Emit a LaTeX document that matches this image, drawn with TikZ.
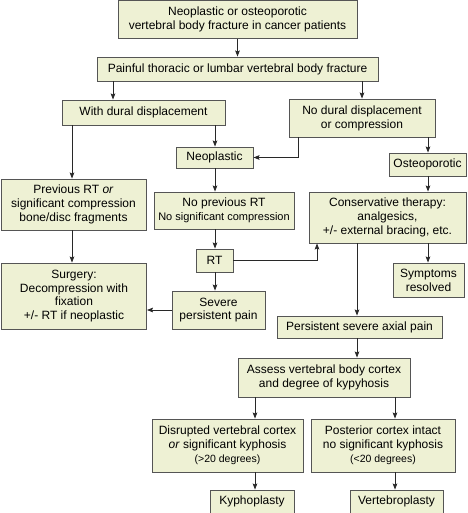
\documentclass[tikz,border=0pt]{standalone}
\usepackage{fontspec}
\setmainfont{Liberation Sans}
\usetikzlibrary{arrows.meta}
\definecolor{boxfill}{RGB}{238,241,212}
\definecolor{boxline}{RGB}{85,85,85}
\definecolor{arrline}{RGB}{40,40,40}
\tikzset{
  box/.style={draw=boxline, fill=boxfill, line width=0.9pt, inner sep=0pt, align=center,
    font=\fontsize{12}{13.8}\selectfont},
  arr/.style={draw=arrline, line width=0.8pt, -{Stealth[length=6pt,width=4.6pt,inset=1pt]}},
  small/.style={font=\fontsize{10.5}{12.5}\selectfont}
}
\begin{document}
\begin{tikzpicture}[x=1pt,y=-1pt]
\useasboundingbox (0,0) rectangle (467,513);
\node[box, minimum width=239pt, minimum height=38pt] (top) at (237.5,19.5) {Neoplastic or osteoporotic\\vertebral body fracture in cancer patients};
\node[box, minimum width=281pt, minimum height=24pt] (pain) at (237.5,69) {Painful thoracic or lumbar vertebral body fracture};
\node[box, minimum width=163pt, minimum height=25pt] (dural) at (143.5,112.5) {With dural displacement};
\node[box, minimum width=146pt, minimum height=38pt] (nodural) at (362,118) {No dural displacement\\or compression};
\node[box, minimum width=77pt, minimum height=21pt] (neo) at (214.5,157.5) {Neoplastic};
\node[box, minimum width=77pt, minimum height=23pt] (osteo) at (427.5,164.5) {Osteoporotic};
\node[box, minimum width=145pt, minimum height=51pt] (prevrt) at (73.5,204.5) {Previous RT \textit{or}\\significant compression\\bone/disc fragments};
\node[box, minimum width=140pt, minimum height=37pt] (noprev) at (224,210.5) {No previous RT\\{\fontsize{11}{12.5}\selectfont No significant compression}};
\node[box, minimum width=157pt, minimum height=51pt] (cons) at (387.5,217.5) {Conservative therapy:\\analgesics,\\+/- external bracing, etc.};
\node[box, minimum width=37pt, minimum height=23pt] (rt) at (214.5,260.5) {RT};
\node[box, minimum width=145pt, minimum height=66pt] (surg) at (74,296) {Surgery:\\Decompression with\\fixation\\+/- RT if neoplastic};
\node[box, minimum width=93pt, minimum height=38pt] (severe) at (218.5,310) {Severe\\persistent pain};
\node[box, minimum width=71pt, minimum height=34pt] (sympt) at (428.5,280) {Symptoms\\resolved};
\node[box, minimum width=165pt, minimum height=22pt] (persist) at (359.5,327) {Persistent severe axial pain};
\node[box, minimum width=172pt, minimum height=39pt] (assess) at (324,377.5) {Assess vertebral body cortex\\and degree of kypyhosis};
\node[box, minimum width=151pt, minimum height=53pt] (disr) at (227.5,445.5) {Disrupted vertebral cortex\\\textit{or} significant kyphosis\\{\fontsize{10.5}{13}\selectfont (>20 degrees)}};
\node[box, minimum width=144pt, minimum height=53pt] (post) at (383,445.5) {Posterior cortex intact\\no significant kyphosis\\{\fontsize{10.5}{13}\selectfont (<20 degrees)}};
\node[box, minimum width=84pt, minimum height=23pt] (kypho) at (252,501.5) {Kyphoplasty};
\node[box, minimum width=93pt, minimum height=23pt] (vert) at (396.5,501.5) {Vertebroplasty};

\draw[arr] (top.south) -- (pain.north);
\draw[arr] (pain.south -| 113,0) -- (dural.north -| 113,0);
\draw[arr] (pain.south -| 362,0) -- (nodural.north -| 362,0);
\draw[arr] (dural.south -| 215,0) -- (neo.north -| 215,0);
\draw[arr] (dural.south -| 72,0) -- (prevrt.north -| 72,0);
\draw[arr] (nodural.south -| 298,0) |- (neo.east);
\draw[arr] (nodural.south -| 428,0) -- (osteo.north -| 428,0);
\draw[arr] (osteo.south -| 428,0) -- (cons.north -| 428,0);
\draw[arr] (neo.south -| 215,0) -- (noprev.north -| 215,0);
\draw[arr] (noprev.south -| 215,0) -- (rt.north -| 215,0);
\draw[arr] (rt.south -| 215,0) -- (severe.north -| 215,0);
\draw[arr] (rt.east) -| (cons.south -| 317,0);
\draw[arr] (prevrt.south -| 72,0) -- (surg.north -| 72,0);
\draw[arr] (severe.west) -- (surg.east |- severe.west);
\draw[arr] (cons.south -| 428,0) -- (sympt.north -| 428,0);
\draw[arr] (cons.south -| 357,0) -- (persist.north -| 357,0);
\draw[arr] (persist.south -| 357,0) -- (assess.north -| 357,0);
\draw[arr] (assess.south -| 255,0) -- (disr.north -| 255,0);
\draw[arr] (assess.south -| 395,0) -- (post.north -| 395,0);
\draw[arr] (disr.south -| 255,0) -- (kypho.north -| 255,0);
\draw[arr] (post.south -| 395,0) -- (vert.north -| 395,0);
\end{tikzpicture}
\end{document}
